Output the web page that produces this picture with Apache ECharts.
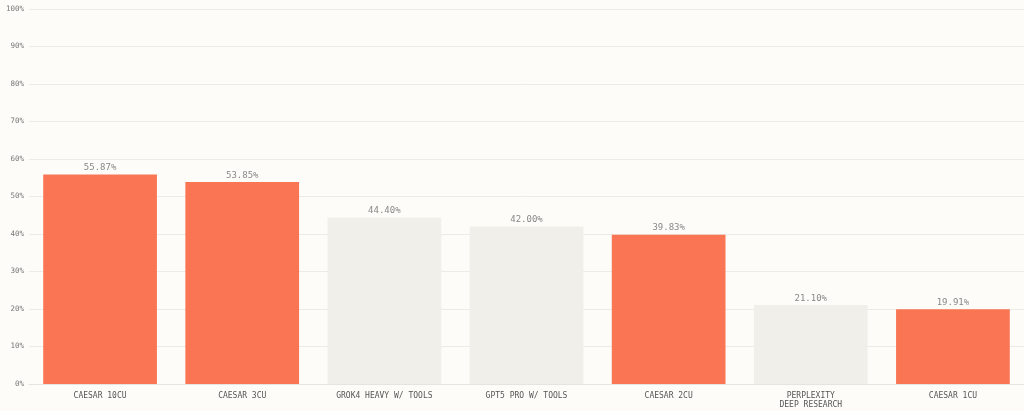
<!DOCTYPE html>
<html>
<head>
<meta charset="utf-8">
<script src="https://cdn.jsdelivr.net/npm/echarts@6/dist/echarts.min.js"></script>
<style>html,body{margin:0;padding:0;background:#fdfcf8}#chart{width:1024px;height:411px}</style>
</head>
<body>
<div id="chart"></div>
<script>
var categories = ['CAESAR 10CU', 'CAESAR 3CU', 'GROK4 HEAVY W/ TOOLS', 'GPT5 PRO W/ TOOLS', 'CAESAR 2CU', 'PERPLEXITY\nDEEP RESEARCH', 'CAESAR 1CU'];
var values = [55.87, 53.85, 44.40, 42.00, 39.83, 21.10, 19.91];
var highlight = [true, true, false, false, true, false, true];

var font = '"DejaVu Sans Mono", monospace';
var chart = echarts.init(document.getElementById('chart'));
chart.setOption({
    backgroundColor: '#fdfcf8',
    animation: false,
    grid: { left: 29, right: -6, top: 9, bottom: 27 },
    xAxis: {
        type: 'category',
        data: categories,
        axisLine: { lineStyle: { color: '#e6e4de' } },
        axisTick: { show: false },
        axisLabel: { color: '#555', fontFamily: font, fontSize: 8, lineHeight: 9, margin: 7 }
    },
    yAxis: {
        type: 'value',
        min: 0, max: 100, interval: 10,
        axisLabel: { formatter: '{value}%', color: '#777', fontFamily: font, fontSize: 7.5, margin: 5 },
        splitLine: { lineStyle: { color: '#ecebe6' } },
        axisLine: { show: false }, axisTick: { show: false }
    },
    series: [{
        type: 'bar',
        barCategoryGap: '20%',
        data: values.map(function (v, i) {
            return { value: v, itemStyle: { color: highlight[i] ? '#f97553' : '#f1efe9' } };
        }),
        label: {
            show: true, position: 'top', distance: 2,
            formatter: function (p) { return p.value.toFixed(2) + '%'; },
            color: '#888', fontFamily: font, fontSize: 9
        }
    }]
});
</script>
</body>
</html>
